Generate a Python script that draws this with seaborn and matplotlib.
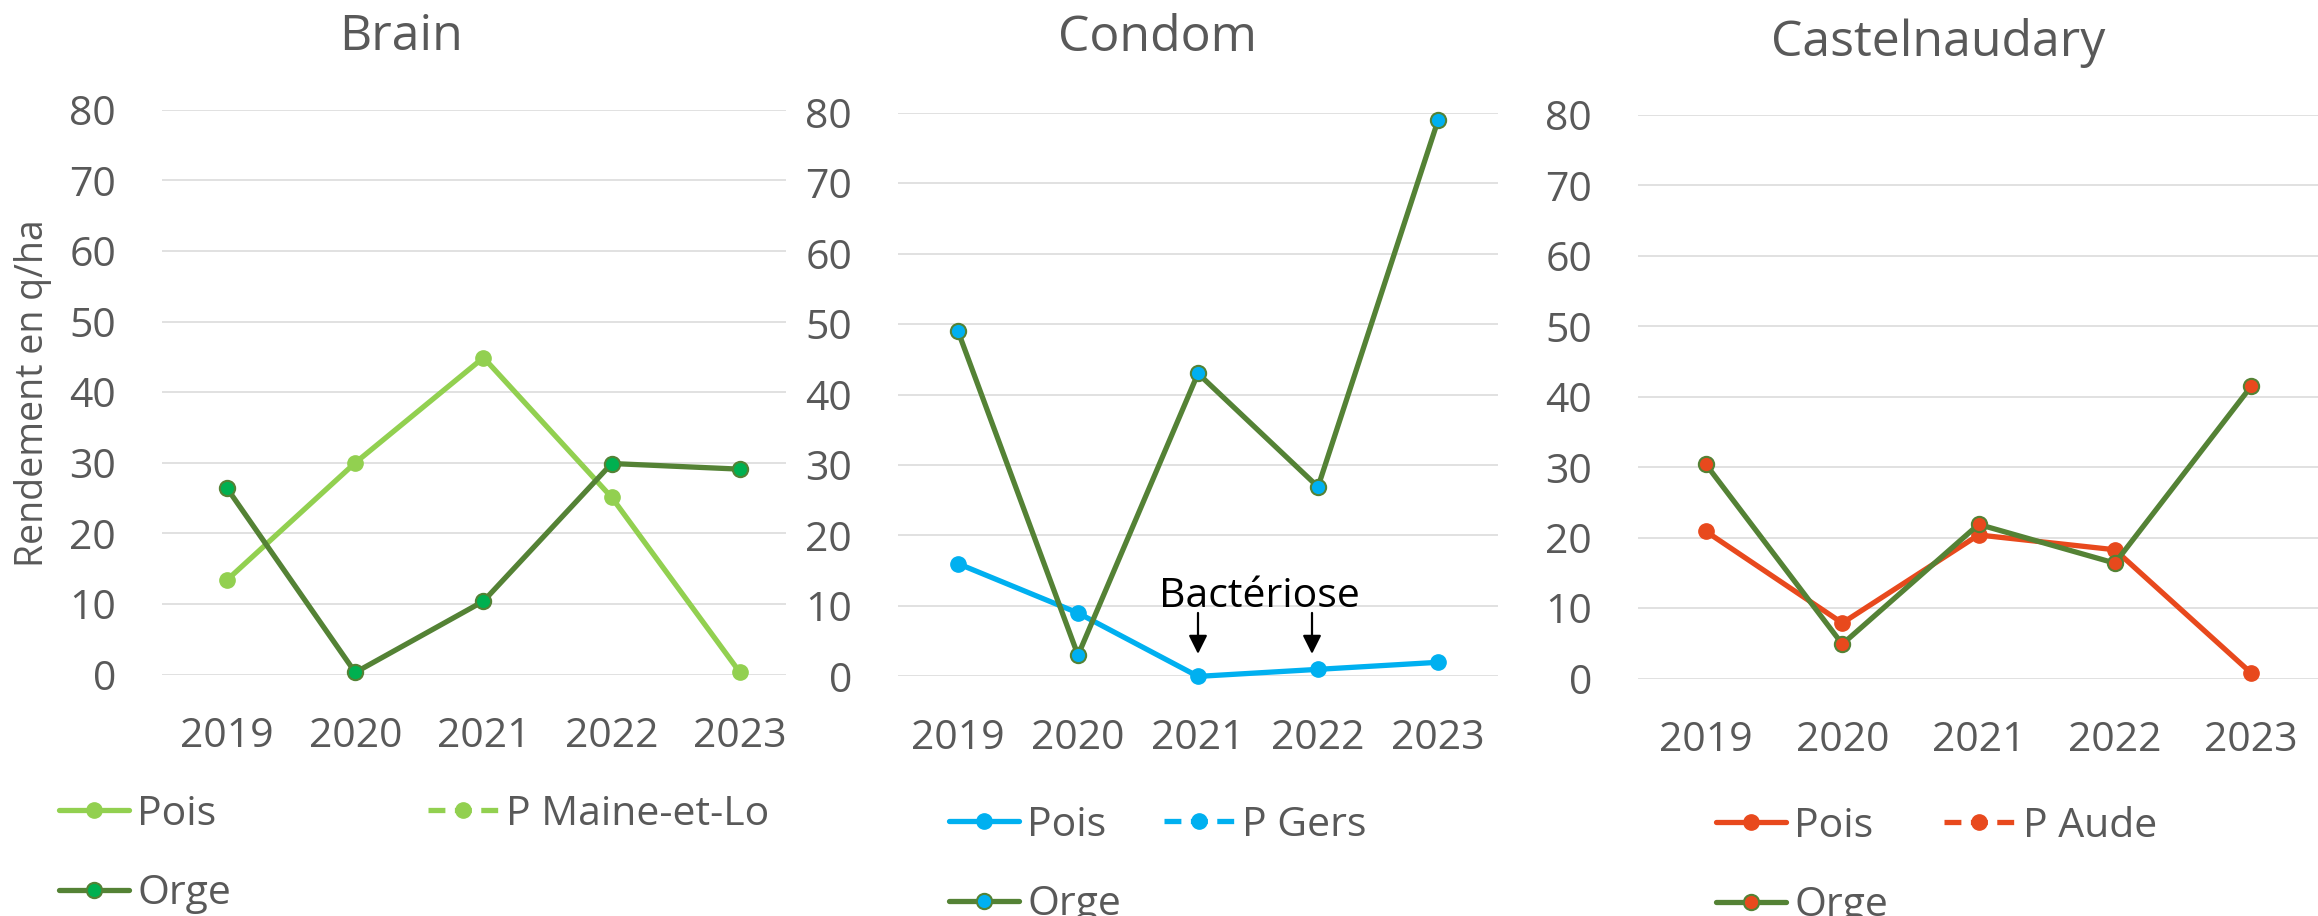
import matplotlib
matplotlib.use("Agg")
import matplotlib.pyplot as plt
from matplotlib.lines import Line2D
import seaborn as sns

years = [2019, 2020, 2021, 2022, 2023]

brain_pois = [13.4, 30.0, 44.9, 25.1, 0.3]
brain_orge = [26.4, 0.3, 10.4, 29.9, 29.1]
condom_pois = [16.0, 9.0, 0.0, 1.0, 2.0]
condom_orge = [49.0, 3.0, 43.0, 26.9, 78.9]
castel_pois = [20.9, 7.9, 20.4, 18.3, 0.8]
castel_orge = [30.4, 4.9, 21.9, 16.4, 41.5]

titles = ["Brain", "Condom", "Castelnaudary"]
dept_labels = ["P Maine-et-Lo", "P Gers", "P Aude"]
y_ticks = [0, 10, 20, 30, 40, 50, 60, 70, 80]

sns.set_style("white")
plt.rcParams["font.family"] = ["Open Sans", "DejaVu Sans"]

W, H = 2318, 916
GREY = "#595959"
ORGE = "#548235"
fig = plt.figure(figsize=(W / 100, H / 100), dpi=100)


def px_axes(x0, x1, ytop, ybot):
    return fig.add_axes([x0 / W, 1 - ybot / H, (x1 - x0) / W, (ybot - ytop) / H])


panels = [
    # axes box, xlim, pois, orge, pois colour, orge marker colour, title pos, legend pos, colspacing
    dict(box=(162, 786, 109.8, 674.6), xlim=(2018.493, 2023.359),
         pois=brain_pois, orge=brain_orge, pc="#92D050", oc="#00B050",
         tpos=(401, 49.6), lpos=(59, 854), cs=4.8),
    dict(box=(898, 1498, 112.7, 676.4), xlim=(2018.5, 2023.5),
         pois=condom_pois, orge=condom_orge, pc="#00B0F0", oc="#00B0F0",
         tpos=(1157, 51.4), lpos=(949, 865), cs=1.05),
    dict(box=(1638, 2318, 115, 678.7), xlim=(2018.501, 2023.49),
         pois=castel_pois, orge=castel_orge, pc="#E8491D", oc="#E8491D",
         tpos=(1938, 55.5), lpos=(1716, 866), cs=1.37),
]

LW = 3.8
MS = 11

for i, p in enumerate(panels):
    ax = px_axes(*p["box"])
    sns.lineplot(x=years, y=p["pois"], ax=ax, color=p["pc"], linewidth=LW,
                 marker="o", markersize=MS, markeredgecolor=p["pc"],
                 markeredgewidth=1, clip_on=False)
    sns.lineplot(x=years, y=p["orge"], ax=ax, color=ORGE, linewidth=LW,
                 marker="o", markersize=MS, markerfacecolor=p["oc"],
                 markeredgecolor=ORGE, markeredgewidth=1.5, clip_on=False)
    ax.set_xlim(*p["xlim"])
    ax.set_ylim(0, 80)
    ax.set_yticks(y_ticks)
    ax.set_xticks(years)
    ax.set_xticklabels([str(y) for y in years])
    ax.yaxis.grid(True, color="#D9D9D9", linewidth=1.1)
    ax.xaxis.grid(False)
    ax.set_axisbelow(True)
    for s in ax.spines.values():
        s.set_visible(False)
    ax.tick_params(axis="y", length=0, pad=33, labelsize=29.5, labelcolor=GREY)
    ax.tick_params(axis="x", length=0, pad=30, labelsize=29.5, labelcolor=GREY)
    ax.set_xlabel("")
    ax.set_ylabel("")

    fig.text(p["tpos"][0] / W, 1 - p["tpos"][1] / H, titles[i], ha="center",
             va="baseline", fontsize=36, color=GREY)

    handles = [
        Line2D([], [], color=p["pc"], lw=LW, marker="o", markersize=MS,
               markeredgecolor=p["pc"]),
        Line2D([], [], color=ORGE, lw=LW, marker="o", markersize=MS,
               markerfacecolor=p["oc"], markeredgecolor=ORGE,
               markeredgewidth=1.5),
        Line2D([], [], color=p["pc"], lw=LW, ls=(0, (3.2, 1.8)), marker="o",
               markersize=MS, markeredgecolor=p["pc"]),
    ]
    labels = ["Pois", "Orge", dept_labels[i]]
    fig.legend(handles, labels, loc="center left",
               bbox_to_anchor=(p["lpos"][0] / W, 1 - p["lpos"][1] / H),
               ncol=2, frameon=False, borderpad=0, borderaxespad=0,
               handlelength=1.71, handletextpad=0.2, columnspacing=p["cs"],
               labelspacing=0.95, fontsize=29.5, labelcolor=GREY)

    if i == 1:
        ax.text(2021.51, 9.8, "Bactériose", ha="center", va="baseline",
                fontsize=29.5, color="black")
        for xa in (2021, 2021.95):
            ax.annotate("", xy=(xa, 2.8), xytext=(xa, 9.4),
                        arrowprops=dict(arrowstyle="-|>", color="black",
                                        lw=1.6, mutation_scale=28))

fig.text(33 / W, 1 - 393 / H, "Rendement en q/ha", rotation=90, ha="center",
         va="center", fontsize=27, color=GREY)

fig.savefig("out.png", dpi=100)
